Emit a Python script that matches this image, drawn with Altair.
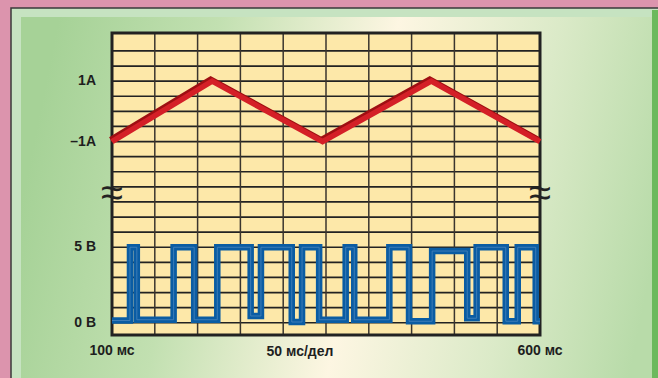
import altair as alt
import pandas as pd

# ---------------- data ----------------
# time axis: ms, 50 ms per division
grid_times_ms = [150, 200, 250, 300, 350, 400, 450, 500, 550]
grid_divs = list(range(0, 19))
x_label_values = [100, 600]
x_label_texts = ["100 мс", "600 мс"]
x_title = "50 мс/дел"

# vertical axis in divisions: voltage 1 V/div from 0, current 0.5 A/div centred at div 14
y_label_values = [0, 5, 12, 16]
y_label_texts = ["0 В", "5 В", "–1А", "1А"]
CURRENT_CENTER_DIV = 14
DIV_PER_AMP = 2

current_t_ms = [100, 217, 346, 473, 600]
current_a = [-1, 1, -1, 1, -1]

pwm_edges_ms = [121, 129, 172, 196, 223, 262, 274, 310, 322, 342,
                373, 383, 424, 447, 474, 515, 526, 560, 574, 595]
pwm_levels_v = [0.15, 5.0, 0.2, 5.0, 0.2, 5.0, 0.45, 5.0, 0.05, 5.0, 0.2,
                5.0, 0.2, 5.0, 0.1, 4.75, 0.3, 5.0, 0.1, 5.0, 0.1]

break_t_ms = [100, 600]
break_div = [8.55, 8.55]

# ---------------- tables ----------------
cur_df = pd.DataFrame({
    "t": current_t_ms,
    "u": [CURRENT_CENTER_DIV + DIV_PER_AMP * a for a in current_a],
    "i": range(len(current_t_ms)),
})

pts_t, pts_v = [100], [pwm_levels_v[0]]
for k, e in enumerate(pwm_edges_ms):
    pts_t += [e, e]
    pts_v += [pwm_levels_v[k], pwm_levels_v[k + 1]]
pts_t.append(600)
pts_v.append(pwm_levels_v[-1])
pwm_df = pd.DataFrame({"t": pts_t, "u": pts_v, "i": range(len(pts_t))})

FONT = "Liberation Sans, Arial, sans-serif"
TXT = "#1e1e1e"
W, H = 428, 302
xs = alt.Scale(domain=[100, 600], nice=False, zero=False)
ys = alt.Scale(domain=[-0.81, 19.19], nice=False, zero=False)
one = alt.Data(values=[{}])


def X(f="t:Q"):
    return alt.X(f, scale=xs, axis=None)


def Y(f="u:Q"):
    return alt.Y(f, scale=ys, axis=None)


# ---------------- decoration ----------------
outer = alt.Chart(one).mark_rect(fill="#c6e3c1", stroke="#3a3a3a", strokeWidth=1.5).encode(
    x=alt.value(-101), x2=alt.value(620), y=alt.value(-25), y2=alt.value(420))

panel_grad = alt.LinearGradient(
    gradient="linear", x1=0, y1=0.43, x2=1, y2=0.57,
    stops=[alt.GradientStop(color="#a6d297", offset=0),
           alt.GradientStop(color="#c2e0b1", offset=0.25),
           alt.GradientStop(color="#fdf6e2", offset=0.53),
           alt.GradientStop(color="#dbeac8", offset=0.78),
           alt.GradientStop(color="#b8dba9", offset=1)])
panel = alt.Chart(one).mark_rect(fill=panel_grad).encode(
    x=alt.value(-91), x2=alt.value(540), y=alt.value(-16), y2=alt.value(420))

stripe = alt.Chart(one).mark_rect(fill="#6cb95d").encode(
    x=alt.value(540), x2=alt.value(620), y=alt.value(-23), y2=alt.value(420))

plot_fill = alt.Chart(one).mark_rect(fill="#fde8a9").encode(
    x=alt.value(0), x2=alt.value(W), y=alt.value(0), y2=alt.value(H))

# ---------------- grid ----------------
hgrid = alt.Chart(pd.DataFrame({"u": grid_divs})).mark_rule(
    color="#222222", strokeWidth=1.7).encode(y=Y())
vgrid = alt.Chart(pd.DataFrame({"t": grid_times_ms})).mark_rule(
    color="#3a352e", strokeWidth=1.5).encode(x=X())
frame = alt.Chart(one).mark_rect(fillOpacity=0, stroke="#222222", strokeWidth=3).encode(
    x=alt.value(0), x2=alt.value(W), y=alt.value(0), y2=alt.value(H))

# ---------------- labels ----------------
ylab = alt.Chart(pd.DataFrame({"u": y_label_values, "s": y_label_texts})).mark_text(
    align="right", baseline="middle", font=FONT, fontSize=14, fontWeight="bold", color=TXT).encode(
    y=Y(), x=alt.value(-16), text="s:N")
xlab = alt.Chart(pd.DataFrame({"t": x_label_values, "s": x_label_texts})).mark_text(
    align="center", baseline="middle", font=FONT, fontSize=14, fontWeight="bold", color=TXT).encode(
    x=X(), y=alt.value(H + 16), text="s:N")
xtitle = alt.Chart(alt.Data(values=[{"s": x_title}])).mark_text(
    align="center", baseline="middle", font=FONT, fontSize=14, fontWeight="bold", color=TXT).encode(
    x=alt.value(188), y=alt.value(H + 17), text="s:N")

# ---------------- signals ----------------
cur_shadow = alt.Chart(cur_df).mark_line(
    color="#9e0f12", strokeWidth=5.5, strokeJoin="miter", xOffset=-1.5, yOffset=-2).encode(
    x=X(), y=Y(), order="i:Q")
cur_line = alt.Chart(cur_df).mark_line(
    color="#d41f27", strokeWidth=5.5, strokeJoin="miter").encode(
    x=X(), y=Y(), order="i:Q")

pwm_line = alt.Chart(pwm_df).mark_line(
    color="#0a5ca3", strokeWidth=6.5, strokeJoin="miter").encode(
    x=X(), y=Y(), order="i:Q")
pwm_inner = alt.Chart(pwm_df).mark_line(
    color="#4a85bb", strokeWidth=1, strokeJoin="miter", opacity=0.8).encode(
    x=X(), y=Y(), order="i:Q")

breaks = alt.Chart(pd.DataFrame({"t": break_t_ms, "u": break_div})).mark_text(
    text="≈", fontSize=40, font="Liberation Sans", fontWeight="normal",
    color="#222222", baseline="middle").encode(x=X(), y=Y())

chart = alt.layer(
    outer, panel, stripe, plot_fill, hgrid, vgrid, frame,
    cur_shadow, cur_line, pwm_line, pwm_inner, breaks, ylab, xlab, xtitle,
).properties(
    width=W, height=H,
    padding={"left": 112, "top": 33, "right": 118, "bottom": 43},
    autosize=alt.AutoSizeParams(type="none"),
    background="#dc94ad",
).configure_view(strokeWidth=0)

chart.save("out.html", embed_options={"renderer": "svg", "actions": False})
